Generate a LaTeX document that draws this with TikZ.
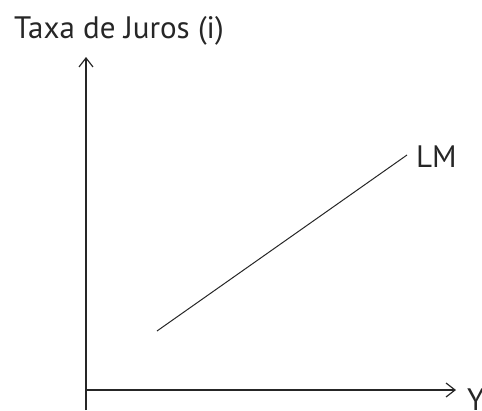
\documentclass[tikz,border=0pt]{standalone}
\usepackage{fontspec}
\setmainfont{PT Sans}
\usetikzlibrary{arrows.meta}
\begin{document}
\begin{tikzpicture}[x=1pt,y=-1pt,
  axis/.style={line width=1.5pt, draw=black!85, -{Straight Barb[length=9pt,width=14pt,line width=1.2pt]}},
  curve/.style={line width=1pt, draw=black!85},
  lbl/.style={font=\fontsize{31}{36}\selectfont, text=black!85, inner sep=0pt}]
\useasboundingbox (0,0) rectangle (482,410);
\coordinate (o) at (86,390);
\coordinate (ytop) at (86,57);
\coordinate (ybot) at (86,410);
\coordinate (xend) at (456,390);
\draw[line width=1.5pt, draw=black!85] (ybot) -- (o);
\draw[axis] (o) -- (ytop);
\draw[axis] (o) -- (xend);
\coordinate (lma) at (157,331);
\coordinate (lmb) at (407,155);
\draw[curve] (lma) -- (lmb);
\node[lbl, anchor=base west] (lm) at (416,167) {LM};
\node[lbl, anchor=base west] (yl) at (467,410) {Y};
\node[lbl, anchor=base west] (il) at (14,38) {Taxa de Juros (i)};
\end{tikzpicture}
\end{document}
